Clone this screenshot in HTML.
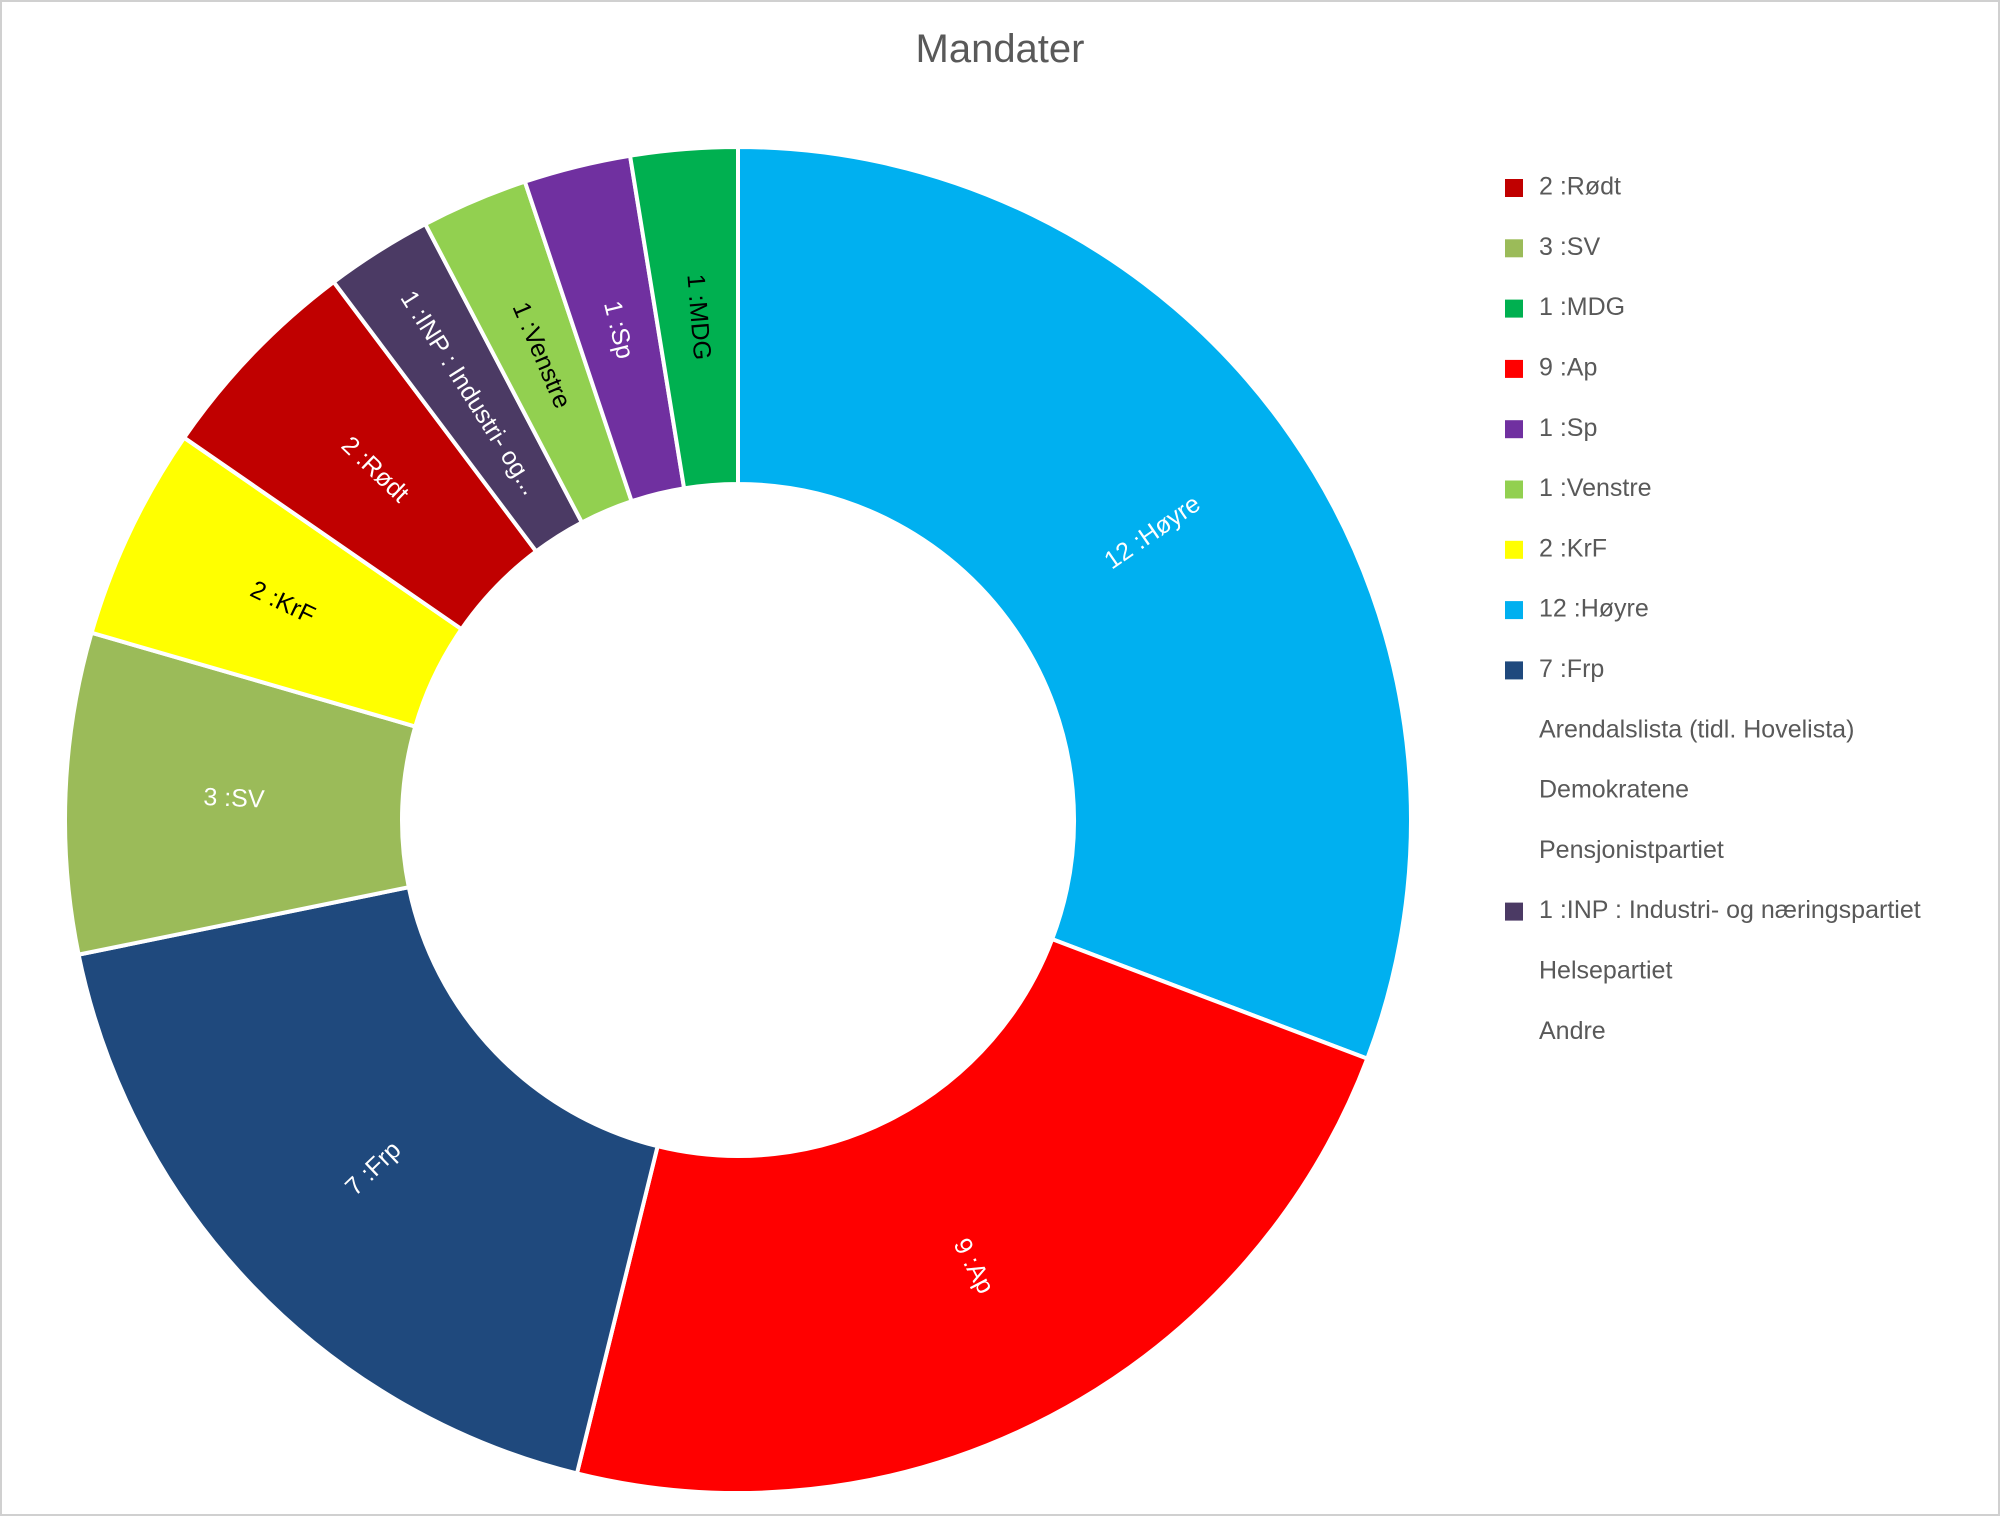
<!DOCTYPE html>
<html><head><meta charset="utf-8"><style>
html,body{margin:0;padding:0;background:#fff;}
#wrap{position:relative;width:2000px;height:1516px;box-sizing:border-box;border:2px solid #d0d0d0;background:#fff;}
svg text{font-family:"Liberation Sans",sans-serif;}
</style></head><body>
<div id="wrap">
<svg id="chart" width="2000" height="1516" style="position:absolute;left:-2px;top:-2px">
<text x="1000" y="62" text-anchor="middle" font-size="40" fill="#595959">Mandater</text>
</svg>
</div>
<script>
const sliceNames=["Høyre","Ap","Frp","SV","KrF","Rødt","INP : Industri- og...","Venstre","Sp","MDG"];
const sliceValues=[12,9,7,3,2,2,1,1,1,1];
const sliceColors=["#00B0F0","#FF0000","#1F497D","#9BBB59","#FFFF00","#C00000","#4B3A64","#92D050","#7030A0","#00B050"];
const labelColors=["#fff","#fff","#fff","#fff","#000","#fff","#fff","#000","#fff","#000"];
const legendLabels=["2 :Rødt","3 :SV","1 :MDG","9 :Ap","1 :Sp","1 :Venstre","2 :KrF","12 :Høyre","7 :Frp","Arendalslista (tidl. Hovelista)","Demokratene","Pensjonistpartiet","1 :INP : Industri- og næringspartiet","Helsepartiet","Andre"];
const legendColors=["#C00000","#9BBB59","#00B050","#FF0000","#7030A0","#92D050","#FFFF00","#00B0F0","#1F497D",null,null,null,"#4B3A64",null,null];
const NS="http://www.w3.org/2000/svg";
const svg=document.getElementById("chart");
const cx=738,cy=820,R=673,r=336;
const total=sliceValues.reduce((a,b)=>a+b,0);
function pt(rad,deg){const a=deg*Math.PI/180;return [cx+rad*Math.sin(a),cy-rad*Math.cos(a)];}
let acc=0;
sliceValues.forEach((v,i)=>{
  const a0=acc/total*360,a1=(acc+v)/total*360;acc+=v;
  const large=(a1-a0)>180?1:0;
  const p0=pt(R,a0),p1=pt(R,a1),q1=pt(r,a1),q0=pt(r,a0);
  const p=document.createElementNS(NS,"path");
  p.setAttribute("d",`M${p0[0]},${p0[1]} A${R},${R} 0 ${large} 1 ${p1[0]},${p1[1]} L${q1[0]},${q1[1]} A${r},${r} 0 ${large} 0 ${q0[0]},${q0[1]} Z`);
  p.setAttribute("fill",sliceColors[i]);p.setAttribute("stroke","#fff");p.setAttribute("stroke-width","4");
  
  
  svg.appendChild(p);
  const mid=(a0+a1)/2;const c=pt((R+r)/2,mid);
  let rot=mid-90;while(rot>90)rot-=180;while(rot<-90)rot+=180;
  const t=document.createElementNS(NS,"text");
  t.setAttribute("x",c[0]);t.setAttribute("y",c[1]);t.setAttribute("text-anchor","middle");t.setAttribute("dominant-baseline","middle");
  t.setAttribute("font-size","25");t.setAttribute("fill",labelColors[i]);
  t.setAttribute("transform",`rotate(${rot} ${c[0]} ${c[1]})`);
  t.textContent=v+" :"+sliceNames[i];
  
  
  svg.appendChild(t);
});
legendLabels.forEach((lab,i)=>{
  const y=188+i*60.3;
  if(legendColors[i]){
    const s=document.createElementNS(NS,"rect");
    s.setAttribute("x",1505);s.setAttribute("y",y-9);s.setAttribute("width",18);s.setAttribute("height",18);s.setAttribute("fill",legendColors[i]);
    
    
    svg.appendChild(s);
  }
  const t=document.createElementNS(NS,"text");
  t.setAttribute("x",1539);t.setAttribute("y",y);t.setAttribute("dominant-baseline","middle");
  t.setAttribute("font-size","25");t.setAttribute("fill","#595959");t.textContent=lab;
  
  
  svg.appendChild(t);
});
</script>
</body></html>
